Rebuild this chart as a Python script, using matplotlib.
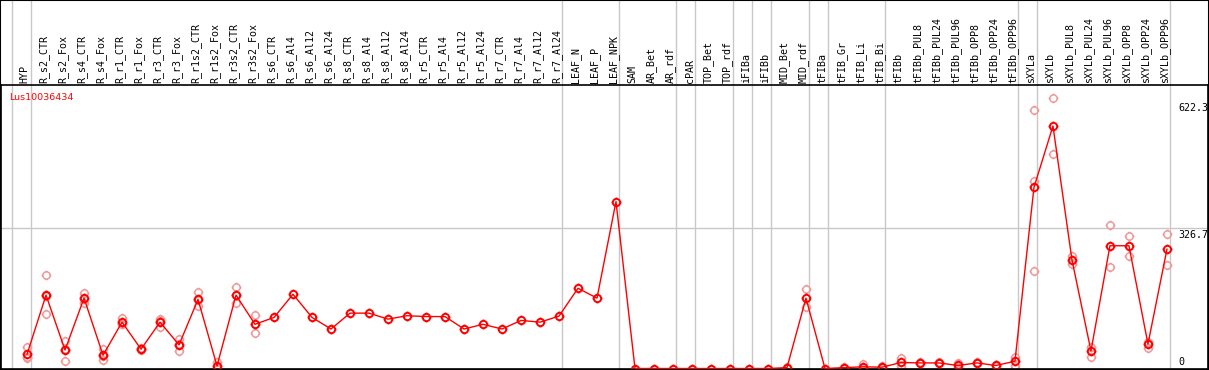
# plot.py
# Expression profile of one gene across sample groups, replicates as light circles.

import numpy as np
import matplotlib
matplotlib.use("Agg")
import matplotlib.pyplot as plt
from matplotlib.path import Path
from matplotlib.patches import Rectangle

GENE = "Lus10036434"

samples = [
    "HYP", "R_s2_CTR", "R_s2_Fox", "R_s4_CTR", "R_s4_Fox", "R_r1_CTR", "R_r1_Fox",
    "R_r3_CTR", "R_r3_Fox", "R_r1s2_CTR", "R_r1s2_Fox", "R_r3s2_CTR", "R_r3s2_Fox",
    "R_s6_CTR", "R_s6_Al4", "R_s6_Al12", "R_s6_Al24", "R_s8_CTR", "R_s8_Al4",
    "R_s8_Al12", "R_s8_Al24", "R_r5_CTR", "R_r5_Al4", "R_r5_Al12", "R_r5_Al24",
    "R_r7_CTR", "R_r7_Al4", "R_r7_Al12", "R_r7_Al24", "LEAF_N", "LEAF_P", "LEAF_NPK",
    "SAM", "AR_Bet", "AR_rdf", "cPAR", "TOP_Bet", "TOP_rdf", "iFIBa", "iFIBb",
    "MID_Bet", "MID_rdf", "tFIBa", "tFIB_Gr", "tFIB_Li", "tFIB_Bi", "tFIBb",
    "tFIBb_PUL8", "tFIBb_PUL24", "tFIBb_PUL96", "tFIBb_OPP8", "tFIBb_OPP24",
    "tFIBb_OPP96", "sXYLa", "sXYLb", "sXYLb_PUL8", "sXYLb_PUL24", "sXYLb_PUL96",
    "sXYLb_OPP8", "sXYLb_OPP24", "sXYLb_OPP96",
]

mean_expr = [
    33, 171, 43, 164, 31, 108, 45, 108, 55, 161, 6, 171, 103,
    119, 173, 119, 92, 129, 129, 115, 123, 121, 121, 92, 103, 92, 112, 108, 122,
    187, 164, 389,
    0, 0, 0, 0, 0, 0, 0, 0, 2, 164, 0, 2, 4, 3,
    14, 13, 13, 7, 13, 7, 17,
    422, 565, 253, 41, 286, 286, 57, 278,
]

replicates = [
    [51, 24, 27], [218, 126, 170], [65, 18, 46], [177, 153, 162], [45, 19, 29],
    [117, 103, 104], [48, 42, 45], [116, 97, 111], [68, 41, 56], [178, 146, 159],
    [16, 0, 2], [190, 152, 171], [124, 82, 103],
    [], [], [], [], [], [], [], [], [], [], [], [], [], [], [], [],
    [], [], [],
    [], [], [], [], [], [], [], [], [3, 1], [185, 143], [], [4, 1], [10, 1], [5, 2],
    [24, 6], [14, 13], [14, 13], [13, 3], [14, 13], [8, 6], [27, 6],
    [602, 438, 228], [630, 500], [262, 243], [51, 27], [334, 236], [309, 262],
    [62, 48], [313, 241],
]

# group boundaries (index of last sample in each group, -1 = left edge)
group_ends = [-1, 0, 28, 31, 34, 35, 37, 38, 39, 41, 42, 45, 52, 53, 60]

y_ticks = [0, 326.7, 622.3]


def ring_marker():
    # circle with four short stubs outside it
    circ = Path.circle((0, 0), 0.75)
    stubs = Path(
        [(0, 0.75), (0, 1.0), (0, -0.75), (0, -1.0),
         (0.75, 0), (1.0, 0), (-0.75, 0), (-1.0, 0)],
        [Path.MOVETO, Path.LINETO] * 4,
    )
    return Path.make_compound_path(circ, stubs)


def main():
    W, H = 1209, 370
    top_px, bot_px = 85, 368.5
    fig = plt.figure(figsize=(W / 100, H / 100), dpi=100)
    ax = fig.add_axes([1 / W, (H - bot_px) / H, (W - 2) / W, (bot_px - top_px) / H])

    x = np.arange(len(samples))
    ax.set_xlim(-1.37, 62.16)
    ax.set_ylim(0, 660.5)
    ax.set_xticks([])
    ax.set_yticks([])
    for s in ax.spines.values():
        s.set_color("black")
        s.set_linewidth(1.2)

    mk = ring_marker()

    # separators run through the label area too
    trans = ax.get_xaxis_transform()
    y_top = 1 + top_px / (bot_px - top_px)
    for g in group_ends:
        ax.plot([g + 0.184, g + 0.184], [0, y_top], color="#c8c8c8", lw=1.0,
                transform=trans, clip_on=False, zorder=1)

    ax.axhline(326.7, color="#c8c8c8", lw=1.0, zorder=1)

    # replicates
    for i, reps in enumerate(replicates):
        if reps:
            ax.plot([x[i]] * len(reps), reps, linestyle="none", marker=mk,
                    markersize=7, markerfacecolor="none",
                    markeredgecolor="#ef9a9a", markeredgewidth=1.1, zorder=2)

    ax.plot(x, mean_expr, color="red", lw=1.0, marker=mk, markersize=7,
            markerfacecolor="none", markeredgecolor="red", markeredgewidth=1.4,
            zorder=3, clip_on=False)

    # sample labels
    lab_y = 1 + 2.5 / (bot_px - top_px)
    for i, name in enumerate(samples):
        ax.text(x[i] - 0.13, lab_y, name, rotation=90, ha="center", va="bottom",
                fontsize=7.2, family="DejaVu Sans Mono", transform=trans)

    # value labels on the right
    for v in y_ticks:
        if v == 0:
            ax.text(60.6, 4, "0", ha="left", va="bottom", fontsize=7.2,
                    family="DejaVu Sans Mono")
        else:
            ax.text(60.6, v - 3, f"{v}", ha="left", va="top", fontsize=7.2,
                    family="DejaVu Sans Mono")

    ax.text(-0.93, 631, GENE, color="red", ha="left", va="center", fontsize=6.8)

    fig.patches.append(Rectangle((0, 0), 1, 1, transform=fig.transFigure,
                                 fill=False, edgecolor="black", lw=1.5))

    fig.savefig("out.png", dpi=100)
    plt.close(fig)


if __name__ == "__main__":
    main()
